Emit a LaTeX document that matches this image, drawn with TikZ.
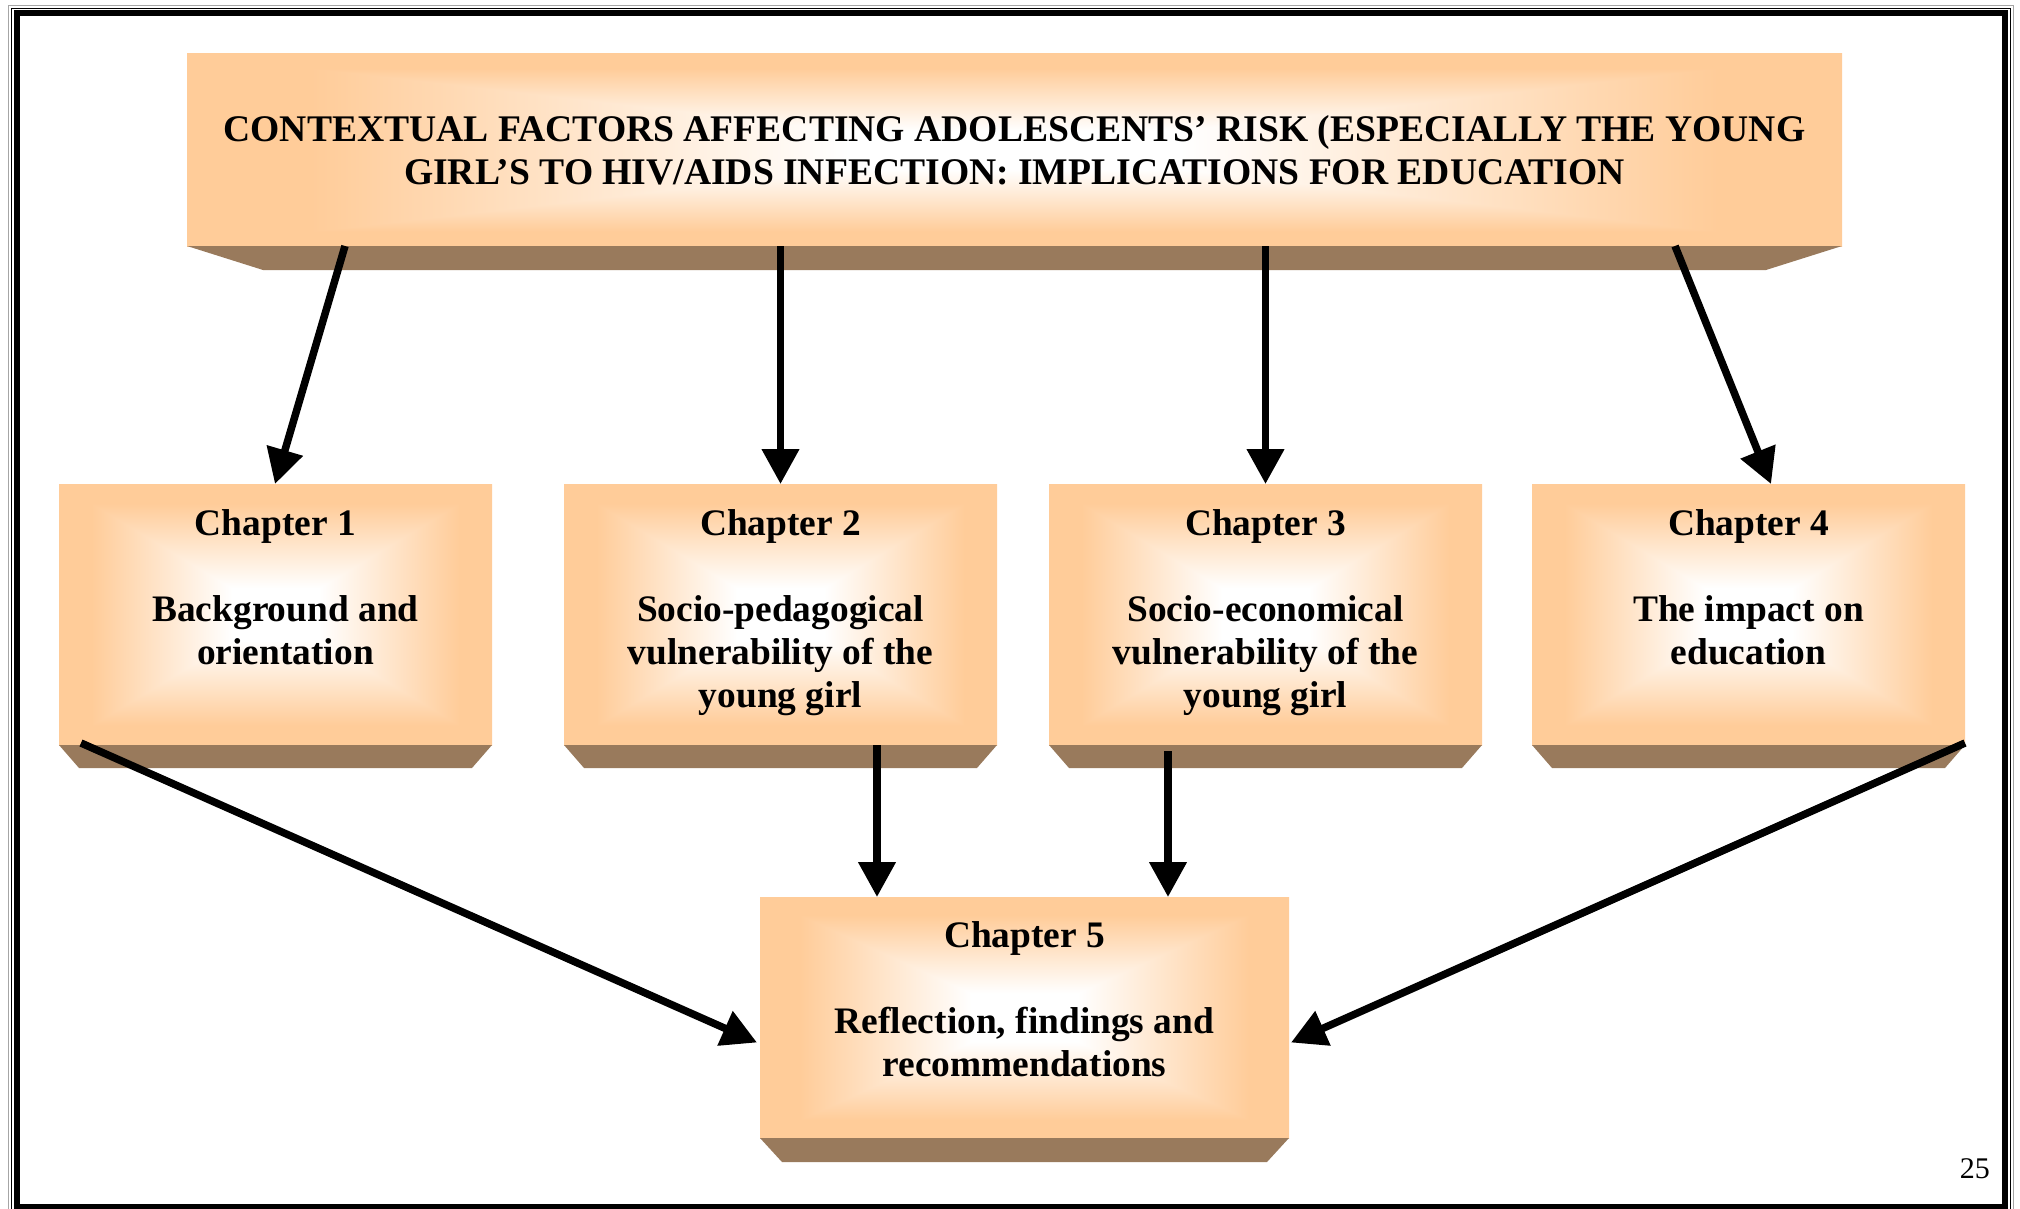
\documentclass[tikz,border=0pt]{standalone}
\usepackage{fontspec}
\setmainfont{Liberation Serif}
\usetikzlibrary{arrows.meta,calc}

\definecolor{peach}{HTML}{FFCC99}
\definecolor{bevelbrown}{HTML}{997A5C}

% Rectangular "from centre" glow: white core fading to peach at the edges
\pgfdeclarefunctionalshading{boxglow}{\pgfpointorigin}{\pgfpoint{100bp}{100bp}}{}{
50 sub 25 div abs exch 50 sub 25 div abs
2 copy lt {exch} if pop
0.2 sub 0.65 div
dup 0 lt {pop 0} if
dup 1 gt {pop 1} if
1 exch dup -0.2 mul 1 add exch -0.4 mul 1 add
}

\newcommand\firstline{\rule{0pt}{30pt}}

\tikzset{
  panel/.style={shade, shading=boxglow, draw=none, inner sep=0pt, outer sep=0pt},
  bevelfill/.style={fill=bevelbrown},
  boxtext/.style={anchor=north, align=center, inner sep=0pt, outer sep=0pt,
    font=\fontsize{37.4}{43}\selectfont\bfseries},
  titletext/.style={boxtext, font=\fontsize{37.6}{43}\selectfont\bfseries},
  conn/.style={line width=7.5pt, -{Triangle[length=35pt,width=36pt]}},
}

\newcommand\bevel[3]{%
  \fill[bevelfill] (#1.south west) -- (#1.south east)
    -- ($(#1.south east)+(-#3,#2)$) -- ($(#1.south west)+(#3,#2)$) -- cycle;}

\begin{document}
\begin{tikzpicture}[x=1pt,y=-1pt]
\useasboundingbox (0,0) rectangle (2020,1209);
\fill[white] (0,0) rectangle (2020,1209);

% page frame
\draw[gray!70, line width=1pt] (8.5,5.5) rectangle (2013,1215);
\draw[black, line width=1.5pt] (11.5,8.5) rectangle (2010.5,1212);
\draw[black, line width=6pt] (17,13) rectangle (2004.5,1207);

% boxes
\node[panel, minimum width=1655pt, minimum height=192pt] (top) at (1014.5,150) {};
\node[panel, minimum width=433pt, minimum height=261pt] (ch1) at (275.5,614.5) {};
\node[panel, minimum width=433pt, minimum height=261pt] (ch2) at (780.5,614.5) {};
\node[panel, minimum width=433pt, minimum height=261pt] (ch3) at (1265.5,614.5) {};
\node[panel, minimum width=433pt, minimum height=261pt] (ch4) at (1748.5,614.5) {};
\node[panel, minimum width=529pt, minimum height=241pt] (ch5) at (1024.5,1017.5) {};

\bevel{top}{24}{76}
\bevel{ch1}{23}{20}
\bevel{ch2}{23}{20}
\bevel{ch3}{23}{20}
\bevel{ch4}{23}{20}
\bevel{ch5}{24}{22}

% texts
\node[titletext] (toptext) at ($(top.north)+(0,58)$)
  {\firstline CONTEXTUAL FACTORS AFFECTING ADOLESCENTS’ RISK (ESPECIALLY THE YOUNG\\
   GIRL’S TO HIV/AIDS INFECTION: IMPLICATIONS FOR EDUCATION};
\node[boxtext] (ch1text) at ($(ch1.north)+(0,21)$)
  {\firstline Chapter 1\\[43pt]\hspace*{20pt}Background and\\\hspace*{20pt}orientation};
\node[boxtext] (ch2text) at ($(ch2.north)+(0,21)$)
  {\firstline Chapter 2\\[43pt]Socio-pedagogical\\vulnerability of the\\young girl};
\node[boxtext] (ch3text) at ($(ch3.north)+(0,21)$)
  {\firstline Chapter 3\\[43pt]Socio-economical\\vulnerability of the\\young girl};
\node[boxtext] (ch4text) at ($(ch4.north)+(0,21)$)
  {\firstline Chapter 4\\[43pt]The impact on\\education};
\node[boxtext] (ch5text) at ($(ch5.north)+(0,20)$)
  {\firstline Chapter 5\\[43pt]Reflection, findings and\\recommendations};

% connectors
\draw[conn] ($(top.south west)+(158,0)$) -- ($(ch1.north west)+(216,0)$);
\draw[conn] (top.south -| ch2.north) -- (ch2.north);
\draw[conn] (top.south -| ch3.north) -- (ch3.north);
\draw[conn] ($(top.south west)+(1488,0)$) -- ($(ch4.north west)+(239,0)$);
\draw[conn] ($(ch1.south west)+(22,-2)$) -- ($(ch5.west)+(-3,25)$);
\draw[conn] ($(ch2.south west)+(313,0)$) -- ($(ch5.north west)+(117,0)$);
\draw[conn] ($(ch3.south west)+(119,6)$) -- ($(ch5.north west)+(408,0)$);
\draw[conn] ($(ch4.south east)+(0,-2)$) -- ($(ch5.east)+(2,25)$);

% page number
\node[anchor=base east, inner sep=0pt, font=\fontsize{30}{36}\selectfont] (pagenum) at (1990,1178) {25};
\end{tikzpicture}
\end{document}
